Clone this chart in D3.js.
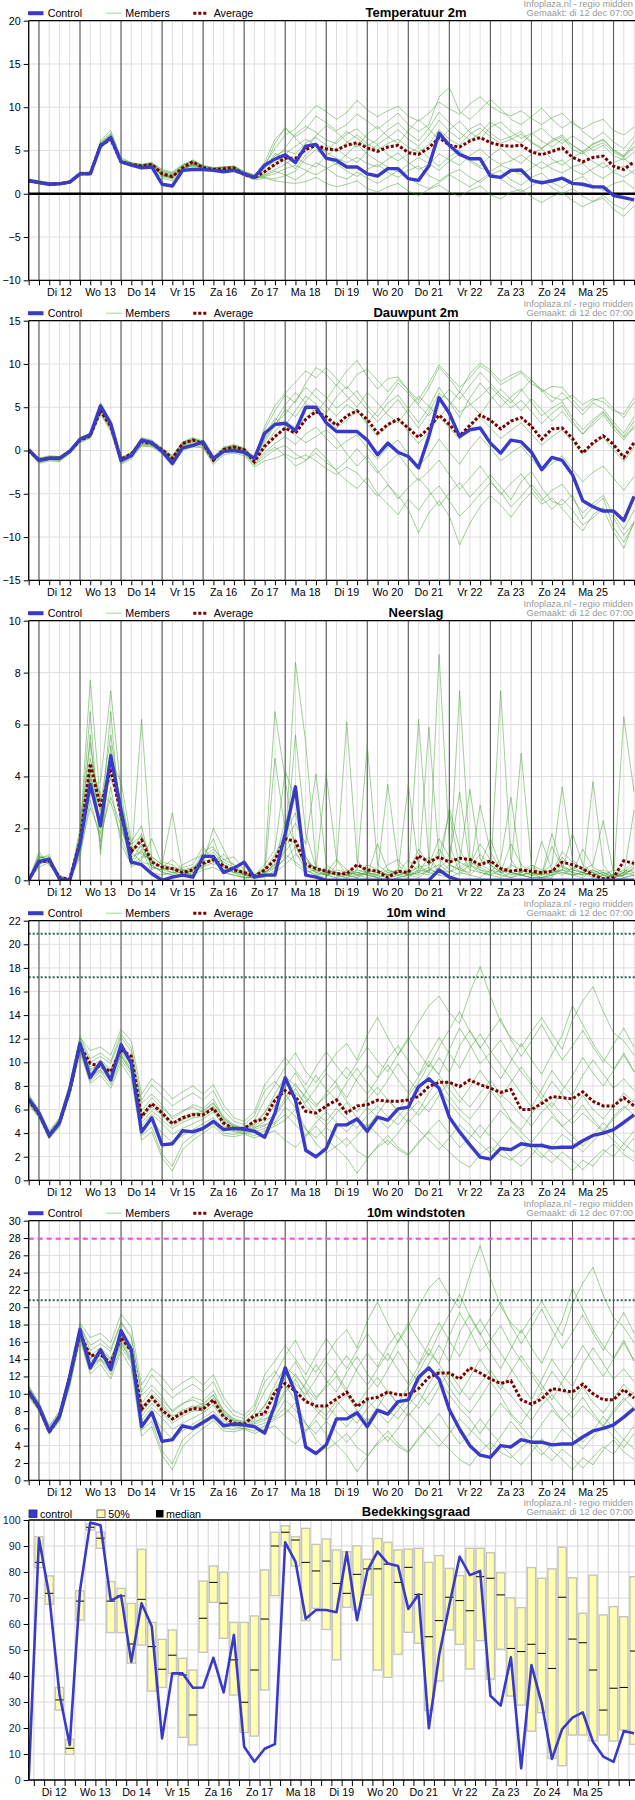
<!DOCTYPE html>
<html><head><meta charset="utf-8">
<script src="https://cdn.jsdelivr.net/npm/d3@7"></script>
<style>body{margin:0;background:#fff}svg{display:block}</style>
</head><body>
<svg id="c" width="635" height="1800"></svg>
<script>
// ---------- DATA ----------
const days = ["Di 12","Wo 13","Do 14","Vr 15","Za 16","Zo 17","Ma 18","Di 19","Wo 20","Do 21","Vr 22","Za 23","Zo 24","Ma 25"];
const sourceText = "Infoplaza.nl - regio midden";
const madeText = "Gemaakt: di 12 dec 07:00";

const tempControl = [1.5,1.3,1.1,1.15,1.35,2.3,2.3,5.5,6.5,3.7, 3.3,3.0,3.1,1.1,0.9,2.7,2.8,2.8,2.7,2.55, 2.7,2.3,1.9,3.3,4.0,4.5,3.6,5.5,5.7,4.1, 3.85,3.1,3.1,2.3,2.05,2.9,2.9,1.75,1.55,3.2, 7.0,5.6,4.55,4.05,4.05,2.05,1.9,2.7,2.75,1.55, 1.25,1.5,1.8,1.2,1.1,0.8,0.8,-0.2,-0.45,-0.7];
const tempAverage = [1.5,1.3,1.1,1.15,1.35,2.3,2.3,5.6,6.3,3.7, 3.4,3.2,3.4,2.3,2.0,3.0,3.7,3.0,2.8,2.9, 3.0,2.2,1.85,2.55,3.4,4.1,4.1,5.1,5.6,5.2, 5.05,5.6,5.9,5.3,4.9,5.4,5.6,4.75,4.55,5.3, 6.5,5.6,5.4,6.1,6.5,5.9,5.6,5.5,5.6,4.85, 4.5,4.9,5.3,4.2,3.7,4.2,4.35,3.2,2.8,3.7];
const tempMembers = [
[1.6,1.4,1.2,1.2,1.4,2.4,2.5,5.8,6.9,3.9, 3.5,3.4,3.6,2.8,2.5,3.4,3.9,3.3,3.0,3.1, 3.2,2.6,2.2,3.4,5.2,6.8,7.5,8.9,10.2,9.5, 8.6,9.4,10.8,9.7,8.9,9.6,10.1,9.0,8.4,9.3, 10.6,9.8,9.2,10.4,11.2,10.1,9.4,9.0,9.6,8.7, 8.0,8.8,9.3,8.1,7.5,8.2,8.6,7.3,6.8,7.7],
[1.4,1.2,1.0,1.1,1.3,2.2,2.2,5.4,6.1,3.5, 3.2,3.0,3.2,1.8,1.5,2.7,3.0,2.8,2.6,2.5, 2.6,2.1,1.6,1.8,1.5,1.3,1.2,1.4,1.9,1.2, 0.8,1.1,1.5,0.6,0.2,0.8,1.2,0.3,-0.2,0.5, 1.0,0.2,-0.3,0.4,0.9,-0.1,-0.6,0.2,0.5,-0.4, -1.0,-0.3,0.1,-0.8,-1.5,-0.9,-0.5,-1.8,-2.6,-1.4],
[1.5,1.3,1.2,1.2,1.4,2.5,2.4,6.2,7.3,4.2, 3.6,3.3,3.5,2.5,2.2,3.0,3.6,3.1,2.9,3.0, 3.1,2.4,2.0,2.6,4.0,5.3,6.9,7.8,7.1,6.2, 5.8,6.9,7.5,6.4,5.7,6.5,7.4,6.3,5.5,6.8, 8.5,7.2,6.3,7.5,8.1,7.0,6.2,6.6,7.2,6.0, 5.3,6.0,6.6,5.1,4.6,5.4,5.9,4.8,4.2,5.3],
[1.7,1.5,1.3,1.3,1.5,2.3,2.4,5.7,6.6,3.8, 3.4,3.1,3.3,2.1,1.9,2.9,3.3,3.0,2.8,2.7, 2.9,2.3,1.9,2.9,4.7,3.8,2.9,4.5,5.6,4.8, 4.1,3.6,4.2,3.5,3.1,4.0,4.7,3.6,2.8,3.4, 4.6,3.9,3.3,4.4,5.2,4.1,3.4,3.8,4.5,3.6, 2.9,3.5,3.9,2.8,2.2,2.9,3.6,2.5,1.9,2.7],
[1.5,1.4,1.1,1.2,1.3,2.2,2.3,5.9,6.8,3.6, 3.3,3.2,3.4,2.4,2.0,3.2,3.8,3.2,3.0,2.8, 3.0,2.5,2.1,3.1,5.8,7.7,6.4,5.2,6.7,7.9, 7.1,6.0,5.4,6.9,7.8,6.6,5.8,7.3,8.6,7.5, 6.2,7.4,8.4,7.1,6.3,7.7,8.3,7.2,6.4,7.0, 6.1,5.4,6.3,5.6,4.8,5.7,6.2,5.0,4.3,6.0],
[1.6,1.3,1.2,1.1,1.4,2.4,2.3,5.6,6.5,3.7, 3.4,3.2,3.4,2.2,1.8,3.1,3.4,3.0,2.8,2.8, 2.9,2.2,1.8,2.2,2.8,3.4,4.2,3.5,3.1,4.4, 5.2,4.3,3.6,4.9,5.6,4.5,3.8,4.6,5.4,4.1, 3.2,4.3,5.0,3.9,3.2,4.4,5.3,4.2,3.5,4.6, 5.2,4.0,3.3,4.2,4.8,3.7,3.0,3.6,4.1,3.2],
[1.4,1.2,1.1,1.1,1.3,2.3,2.2,5.5,6.4,3.7, 3.3,3.1,3.3,2.0,1.7,2.8,3.2,2.9,2.7,2.6, 2.8,2.2,1.7,2.4,3.3,4.6,5.5,6.3,5.6,4.9, 6.1,7.2,6.4,5.5,6.3,7.4,8.2,7.0,6.1,7.6, 9.4,8.2,7.1,6.2,7.0,8.3,7.5,6.4,5.8,6.9, 7.6,6.5,5.8,6.7,5.9,5.0,5.6,4.4,3.9,4.8],
[1.5,1.3,1.2,1.2,1.4,2.3,2.4,5.6,6.7,3.8, 3.4,3.2,3.4,2.3,2.0,3.0,3.5,3.0,2.8,2.9, 3.0,2.3,1.9,2.0,2.3,2.9,3.3,2.7,2.2,2.9, 3.5,2.6,2.0,2.8,3.4,2.5,1.9,2.7,3.2,2.1, 1.5,2.3,2.8,1.9,1.3,2.2,2.7,1.6,1.0,1.9, 2.4,1.3,0.7,1.5,2.0,0.9,0.4,1.2,1.5,0.6],
[1.6,1.4,1.2,1.2,1.4,2.4,2.4,5.7,6.6,3.9, 3.5,3.3,3.5,2.6,2.3,3.3,3.7,3.1,2.9,3.1, 3.1,2.5,2.0,3.0,4.4,5.0,4.6,5.9,6.5,5.6, 5.0,5.9,6.8,5.8,5.1,5.8,6.3,5.4,4.8,5.7, 7.4,6.3,5.6,6.9,7.6,6.6,5.8,6.3,6.9,5.9, 5.2,6.2,6.8,5.6,4.9,5.8,6.3,5.1,4.4,5.5],
[1.5,1.3,1.1,1.2,1.3,2.2,2.3,5.5,6.3,3.6, 3.3,3.1,3.3,2.2,1.9,2.9,3.3,2.9,2.7,2.8, 2.9,2.3,1.8,1.9,1.7,2.1,2.6,4.1,5.1,4.2, 3.4,4.6,5.7,4.6,3.8,3.1,2.5,3.4,4.2,3.5, 2.7,3.8,4.6,3.7,3.0,2.6,3.3,2.8,2.2,3.0, 3.7,2.9,2.4,3.1,3.5,2.4,1.8,2.6,3.2,2.3],
[1.7,1.5,1.3,1.3,1.5,2.5,2.5,6.0,7.0,4.0, 3.6,3.4,3.6,2.7,2.4,3.3,3.8,3.2,3.0,3.1, 3.2,2.5,2.1,3.6,6.3,7.5,6.6,7.4,9.0,8.2, 7.3,8.0,9.2,8.4,7.5,8.4,9.3,8.0,7.2,8.0, 11.2,12.3,9.5,8.6,9.7,10.9,9.8,8.6,8.0,8.9, 9.9,8.6,7.6,8.4,7.2,6.3,7.1,6.0,5.2,6.6],
[1.5,1.3,1.1,1.1,1.3,2.3,2.3,5.6,6.5,3.7, 3.4,3.2,3.4,2.1,1.8,2.9,3.4,3.0,2.8,2.7, 2.9,2.3,1.8,2.1,2.6,2.2,1.6,2.4,3.6,3.0, 2.1,1.7,2.5,1.8,1.2,1.9,2.7,1.9,1.1,0.6, 1.3,2.2,1.5,0.8,1.6,2.4,1.7,0.9,0.2,0.9, 1.6,0.7,0.0,0.6,-0.3,-0.9,-0.2,-1.2,-1.8,-0.6]
];

const dewControl = [0.1,-1.15,-0.9,-0.9,-0.1,1.3,1.8,5.15,3.1,-1.15, -0.6,1.2,0.9,-0.1,-1.5,0.3,0.6,1.0,-0.9,-0.1, 0,-0.2,-0.9,2.0,3.0,3.15,2.3,5.0,5.0,3.2, 2.2,2.2,2.2,1.2,-0.5,0.85,-0.2,-0.7,-2.0,1.6, 6.1,4.3,1.6,2.4,2.6,0.85,-0.3,1.2,1.0,-0.2, -2.2,-0.8,-1.15,-2.8,-5.8,-6.5,-7.0,-7.0,-8.1,-5.3];
const dewAverage = [0,-1.1,-0.9,-0.9,-0.1,1.2,1.7,4.6,2.8,-1.0, -0.4,1.0,0.8,0.1,-0.9,0.8,1.2,0.8,-1.1,0.1, 0.4,0.1,-1.3,0.5,1.6,2.6,2.0,3.6,4.5,3.9, 2.9,4.0,4.6,3.6,2.0,3.0,3.6,2.6,1.5,2.6, 4.1,3.0,1.7,2.9,4.1,3.5,2.5,3.4,3.8,2.8, 1.3,2.5,2.6,1.4,-0.3,0.9,1.7,0.7,-0.8,0.9];
const dewMembers = [
[0.2,-0.9,-0.6,-0.7,0.1,1.5,2.0,5.5,3.4,-0.8, -0.2,1.5,1.2,0.3,-0.6,1.0,1.5,1.1,-0.7,0.4, 0.7,0.3,-0.8,2.4,4.6,6.4,5.5,7.8,9.6,8.8, 7.5,9.2,10.4,8.6,7.1,8.3,8.5,6.9,5.4,7.2, 9.6,8.3,6.7,8.9,10.1,9.3,8.0,8.7,9.2,8.1, 6.8,7.4,7.3,5.9,4.6,5.8,6.1,4.9,3.8,5.6],
[-0.2,-1.5,-1.2,-1.3,-0.4,0.9,1.4,4.2,2.2,-1.6, -1.0,0.5,0.4,-0.4,-1.8,0.0,0.4,0.3,-1.6,-0.5, -0.3,-0.6,-1.9,-1.2,-0.9,-0.4,-1.0,-0.5,-1.2,-2.1, -2.8,-1.9,-2.6,-3.9,-5.3,-4.0,-5.2,-6.8,-9.5,-7.2, -5.8,-7.6,-10.9,-8.4,-6.5,-5.2,-6.3,-7.7,-6.1,-4.8, -6.2,-5.5,-6.7,-8.1,-9.3,-7.4,-6.6,-7.8,-9.8,-8.3],
[0.0,-1.1,-0.8,-0.9,0.0,1.3,1.8,4.9,3.0,-1.2, -0.5,1.1,0.9,0.0,-1.1,0.6,1.0,0.9,-1.0,0.2, 0.4,0.1,-1.1,1.0,2.9,4.8,3.9,5.6,7.2,6.1, 4.9,5.8,6.9,5.2,3.9,5.5,6.4,4.8,3.2,5.0, 7.3,5.6,3.8,6.1,7.8,6.4,5.0,6.2,7.1,5.6, 4.0,4.9,5.6,3.8,2.4,3.6,4.5,3.0,1.6,3.4],
[-0.1,-1.3,-1.0,-1.1,-0.2,1.1,1.6,4.5,2.6,-1.4, -0.7,0.8,0.6,-0.1,-1.4,0.2,0.7,0.6,-1.3,-0.2, 0.1,-0.2,-1.5,-0.2,0.8,1.6,0.7,1.9,2.7,1.4, 0.2,1.1,1.8,0.3,-1.0,0.4,1.2,-0.4,-1.8,-0.5, 1.3,-0.2,-1.6,0.2,1.6,0.3,-1.2,-0.3,0.5,-0.9, -2.4,-1.5,-0.6,-2.2,-3.6,-2.5,-1.8,-3.2,-4.6,-3.0],
[0.1,-1.0,-0.7,-0.8,0.0,1.4,1.9,5.2,3.2,-1.0, -0.3,1.3,1.0,0.2,-0.8,0.9,1.3,1.0,-0.9,0.3, 0.5,0.2,-1.0,1.8,3.7,2.9,4.6,6.3,5.4,4.3, 6.2,7.4,6.1,4.7,3.3,4.6,5.9,4.2,2.6,4.4, 6.6,5.8,4.4,5.3,6.2,7.4,6.1,4.9,5.8,4.5, 3.1,4.3,5.2,3.4,1.9,3.0,4.1,2.5,1.2,2.9],
[0.0,-1.2,-0.9,-1.0,-0.1,1.2,1.7,4.7,2.8,-1.1, -0.4,1.0,0.8,0.1,-1.0,0.7,1.1,0.8,-1.1,0.1, 0.3,0.0,-1.2,0.2,1.5,2.6,1.8,0.9,1.6,2.4, 1.3,-0.4,-1.8,-0.6,-2.3,-3.9,-5.6,-4.3,-3.2,-4.6, -6.4,-4.9,-3.7,-5.4,-4.1,-2.8,-4.2,-5.7,-3.6,-2.4, -4.3,-5.9,-6.3,-5.1,-7.9,-6.5,-5.5,-8.9,-10.6,-8.4],
[0.1,-1.0,-0.8,-0.8,0.0,1.3,1.8,5.0,3.1,-1.1, -0.5,1.2,1.0,0.1,-0.9,0.8,1.2,1.0,-1.0,0.2, 0.5,0.1,-1.1,1.3,3.1,4.2,5.8,7.3,6.2,5.1, 4.0,5.3,4.5,3.2,4.6,6.1,7.8,6.6,5.2,4.0, 5.7,7.1,5.9,7.5,9.0,7.8,6.4,5.5,6.9,8.2, 7.0,5.6,6.7,5.4,4.1,5.5,4.8,3.3,2.0,3.9],
[-0.1,-1.4,-1.1,-1.2,-0.3,1.0,1.5,4.3,2.4,-1.5, -0.8,0.6,0.5,-0.2,-1.6,0.1,0.5,0.4,-1.4,-0.3, 0.0,-0.4,-1.7,-0.8,0.1,0.6,-0.4,-1.1,-0.3,-1.4, -2.2,-1.2,0.2,-1.1,-2.6,-1.5,-0.4,-2.0,-3.5,-2.4, -1.1,-2.8,-4.5,-3.2,-1.8,-3.4,-5.1,-3.8,-2.7,-4.3, -5.8,-4.6,-3.9,-5.5,-7.2,-6.1,-5.2,-7.4,-9.1,-6.9],
[0.1,-1.1,-0.8,-0.9,0.0,1.4,1.9,5.0,3.0,-1.0, -0.4,1.1,0.9,0.1,-1.0,0.8,1.2,0.9,-1.0,0.2, 0.4,0.1,-1.0,1.5,3.4,5.3,6.7,5.5,4.3,5.9, 7.6,6.3,5.0,6.7,5.5,4.1,3.2,4.8,6.3,5.1, 3.8,5.2,6.8,5.4,4.2,5.8,7.1,5.9,4.6,6.0, 4.7,3.4,4.5,3.1,1.9,3.3,4.4,2.8,1.5,2.6],
[0.0,-1.2,-0.9,-1.0,-0.1,1.2,1.7,4.8,2.9,-1.2, -0.6,0.9,0.7,0.0,-1.2,0.5,0.9,0.7,-1.2,0.0, 0.3,-0.1,-1.3,0.6,2.2,3.4,2.6,3.8,4.9,3.7, 2.6,3.5,4.6,3.0,1.7,2.8,3.7,2.2,0.8,2.1, 3.9,2.6,1.3,2.7,3.8,2.6,1.4,2.3,3.2,1.9, 0.6,1.6,2.4,1.0,-0.4,0.7,1.5,0.1,-1.3,0.4],
[0.2,-0.9,-0.7,-0.7,0.1,1.5,2.0,5.3,3.3,-0.9, -0.3,1.4,1.1,0.2,-0.7,0.9,1.4,1.0,-0.8,0.3, 0.6,0.2,-0.9,2.8,5.2,6.6,7.9,9.2,8.4,9.6, 8.3,7.1,8.8,9.4,8.1,6.8,8.2,7.0,5.8,7.8, 9.9,8.6,7.3,8.4,9.8,9.0,7.6,8.3,9.0,7.7, 7.1,6.2,5.8,6.4,5.3,6.0,5.6,4.6,4.2,6.1],
[-0.1,-1.3,-1.0,-1.1,-0.2,1.1,1.6,4.6,2.7,-1.3, -0.7,0.7,0.6,-0.1,-1.3,0.3,0.8,0.5,-1.3,-0.1, 0.2,-0.3,-1.6,-0.5,0.4,-0.6,-1.8,-1.2,0.3,-0.9, -2.4,-3.5,-4.4,-3.1,-5.0,-6.2,-7.4,-5.6,-6.9,-5.2, -4.1,-5.8,-7.6,-6.4,-5.0,-3.7,-4.8,-6.5,-5.3,-3.9, -5.4,-6.8,-5.6,-6.9,-8.6,-7.8,-6.7,-9.4,-11.3,-8.2]
];

const precipControl = [0,0.73,0.8,0.05,0,1.4,3.7,2.1,4.8,2.7, 0.7,0.6,0.25,0,0.12,0.2,0.12,0.92,0.92,0.3, 0.47,0.7,0.12,0.2,0.2,1.8,3.6,0.2,0.12,0, 0,0,0,0,0,0,0,0,0,0, 0.4,0.12,0,0,0,0,0,0,0,0, 0,0,0,0,0,0,0,0,0,0];
const precipAverage = [0,0.7,0.75,0.1,0.05,1.5,4.5,2.8,4.3,2.5, 1.1,1.55,0.7,0.5,0.45,0.3,0.4,0.65,0.8,0.55, 0.4,0.3,0.15,0.4,0.8,1.6,1.5,0.6,0.45,0.35, 0.25,0.25,0.6,0.4,0.35,0.1,0.35,0.3,0.95,0.7, 0.9,0.7,0.85,0.8,0.6,0.75,0.45,0.35,0.4,0.35, 0.3,0.35,0.7,0.6,0.45,0.2,0.05,0.1,0.75,0.65];
const precipMembers = [
[0,0.9,0.8,0.1,0,1.8,7.7,2.9,5.6,2.6, 1.0,1.8,0.5,0.4,0.3,0.2,0.4,1.1,1.3,0.6, 0.3,0.1,0.1,0.3,0.5,1.2,8.4,5.3,0.6,0.2, 0.1,0.4,0.3,0.2,0.1,0.0,0.1,0.2,0.3,0.5, 0.2,0.1,0.3,0.6,1.4,0.8,0.3,0.1,0.2,0.1, 0.1,0.3,0.4,1.8,0.6,0.3,0.1,0.0,0.1,0.2],
[0,0.7,0.7,0.0,0,1.2,3.6,3.8,7.3,3.4, 0.8,6.2,0.7,0.5,0.8,0.4,0.3,0.5,0.9,0.4, 0.5,0.2,0.1,0.2,4.7,1.9,0.6,0.3,0.4,4.1, 0.8,0.2,0.1,0.3,0.4,0.2,0.1,0.2,0.6,0.3, 8.7,1.4,0.3,0.2,0.1,0.4,0.2,0.1,0.3,0.2, 0.1,0.1,0.6,0.3,0.2,3.8,0.6,0.1,0.2,0.5],
[0,0.6,0.9,0.2,0,1.4,5.6,1.0,4.9,2.3, 0.5,0.8,1.6,0.6,2.6,0.3,0.5,0.7,2.0,1.2, 0.4,0.3,0.2,0.5,6.5,3.9,1.1,0.4,0.2,0.1, 0.6,6.1,0.8,0.2,0.1,0.3,0.4,0.2,6.2,0.8, 0.3,0.2,7.3,0.9,0.4,0.2,0.1,0.3,0.2,0.1, 0.1,0.2,0.3,0.2,0.1,0.4,0.2,0.1,6.3,3.4],
[0,1.1,0.6,0.1,0,1.6,4.2,2.0,6.5,1.9, 1.2,1.3,0.6,0.3,0.2,0.5,0.6,1.3,0.7,1.0, 0.6,0.2,0.1,0.2,0.7,2.3,1.4,0.5,0.3,0.5, 0.2,0.1,0.4,5.2,0.6,0.3,0.2,0.1,0.4,5.9, 0.8,0.4,0.2,0.6,0.3,0.2,7.3,0.8,0.2,0.3, 0.1,0.2,0.9,0.4,0.3,0.1,0.2,0.4,0.3,0.8],
[0,0.8,1.0,0.0,0,0.9,3.1,1.5,3.6,1.4, 0.6,0.9,0.9,0.6,0.4,0.4,0.2,0.8,0.6,0.8, 0.9,0.4,0.2,0.6,1.2,4.2,3.1,0.8,0.4,0.2, 0.3,0.2,0.1,0.4,0.3,3.7,0.6,0.2,0.1,0.4, 0.6,0.3,0.7,3.5,0.8,0.6,0.3,0.5,4.9,0.6, 0.4,0.3,1.1,0.7,0.4,0.6,2.3,0.3,0.1,0.2],
[0,0.5,0.7,0.1,0,2.0,5.3,2.5,4.6,3.8, 1.5,2.1,0.4,0.7,0.6,0.3,0.4,0.9,1.6,0.5, 0.3,0.3,0.1,0.1,0.4,0.9,5.6,1.8,0.5,0.3, 0.2,0.3,0.6,0.3,0.2,0.1,0.2,0.3,1.2,0.6, 0.9,2.6,0.5,0.8,0.6,1.6,0.5,0.3,0.2,0.3, 0.2,1.8,0.5,0.3,1.2,0.5,0.3,0.1,0.3,0.6],
[0,0.9,0.8,0.2,0,1.5,4.7,3.1,3.9,2.8, 1.3,1.0,0.8,0.5,0.3,0.6,0.8,1.0,0.9,0.7, 0.5,0.2,0.2,0.4,0.8,1.5,2.2,1.4,4.1,0.6, 0.3,0.2,0.3,0.2,1.4,0.4,0.3,0.8,0.3,0.2, 0.5,0.8,3.4,0.6,0.4,0.3,0.8,3.2,0.4,0.2, 0.3,0.6,3.6,0.8,0.4,0.3,0.1,0.2,0.4,0.3],
[0,0.7,0.9,0.0,0,1.1,2.8,1.8,3.2,2.1, 0.7,1.4,0.5,0.4,0.5,0.2,0.3,0.6,0.8,0.3, 0.2,0.1,0.1,0.2,0.3,0.6,1.0,0.7,0.5,0.3, 0.2,0.1,0.2,0.1,0.2,0.4,0.2,0.3,0.2,0.4, 0.3,2.8,1.2,0.4,0.3,0.2,0.4,0.3,0.2,0.1, 1.5,0.4,0.3,0.2,0.3,0.2,0.1,0.2,0.3,0.4],
[0,1.0,0.6,0.1,0,1.7,6.5,1.2,5.2,2.4, 0.9,1.1,0.7,0.5,0.4,0.3,0.2,0.9,1.2,0.8, 0.6,0.3,0.2,0.3,0.6,1.1,1.6,0.9,0.4,0.2, 0.4,0.3,0.2,0.6,0.4,0.2,0.3,3.7,0.5,0.3, 0.2,0.6,0.4,0.3,2.9,1.1,0.4,0.2,0.3,0.6, 0.2,0.4,0.2,0.5,0.3,0.2,0.3,0.1,0.2,0.3],
[0,0.6,0.8,0.1,0,1.3,3.9,2.2,4.1,2.6, 1.1,0.7,0.6,0.3,0.2,0.2,0.4,0.5,0.7,0.4, 0.3,0.2,0.1,0.2,0.5,0.8,1.3,0.6,0.3,0.2, 0.1,0.2,0.3,0.2,0.3,0.2,0.4,0.2,0.3,0.9, 0.4,0.3,0.5,0.2,0.6,0.4,0.3,1.4,0.6,0.3, 0.2,0.3,0.4,0.2,0.3,0.4,0.2,0.1,0.3,0.2],
[0,0.8,0.7,0.0,0,1.0,4.4,3.3,3.0,1.7, 0.6,1.2,0.3,0.2,0.3,0.3,0.2,0.4,0.5,0.3, 0.2,0.1,0.1,0.3,0.6,1.0,0.7,0.4,0.2,0.3, 0.8,0.4,0.2,0.3,0.2,0.6,0.8,0.3,0.5,0.6, 1.6,0.9,0.7,0.5,1.0,0.6,0.3,0.4,0.3,0.5, 0.3,0.2,0.4,0.3,0.2,0.3,0.4,0.2,0.2,0.5],
[0,0.9,0.9,0.1,0,1.6,4.0,2.7,4.4,3.0, 1.4,1.7,0.9,0.6,0.5,0.4,0.5,0.8,1.1,0.6, 0.4,0.2,0.2,0.4,1.0,1.8,2.6,0.9,0.3,0.2, 0.3,0.2,0.4,0.3,0.1,0.2,0.3,0.2,0.4,0.3, 1.2,0.6,0.4,0.7,0.5,0.3,0.2,0.6,0.4,0.3, 0.2,1.3,0.5,0.4,0.3,0.2,0.3,0.2,0.2,2.7]
];

const windControl = [6.9,5.7,3.8,4.9,7.7,11.6,8.7,10.0,8.5,11.5, 9.9,4.1,5.3,3.0,3.1,4.2,4.1,4.4,5.0,4.3, 4.4,4.35,4.15,3.65,5.7,8.7,6.8,2.55,2.0,2.7, 4.7,4.7,5.2,4.15,5.35,5.1,6.05,6.2,7.95,8.6, 7.8,5.35,4.1,3.0,1.97,1.8,2.7,2.6,3.1,2.95, 2.95,2.75,2.8,2.8,3.35,3.8,4.0,4.3,4.9,5.55];
const windAverage = [6.8,5.6,3.8,4.9,7.6,11.4,9.9,9.65,9.2,11.1, 10.5,5.4,6.5,5.7,4.8,5.3,5.55,5.55,6.1,4.85, 4.35,4.4,5.0,5.2,6.8,7.6,7.1,5.85,5.7,6.3, 6.8,5.7,6.3,6.4,6.8,6.7,6.7,6.8,7.1,7.95, 8.3,8.3,7.95,8.5,8.1,7.8,7.45,7.7,6.0,6.0, 6.5,7.1,7.0,6.9,7.5,6.7,6.3,6.3,7.0,6.3];
const windMembers = [
[7.2,5.9,4.1,5.2,8.1,12.2,10.3,10.8,10.1,12.4, 11.2,6.5,7.3,6.4,5.2,5.8,6.4,6.1,6.9,5.3, 4.6,4.4,5.1,6.8,8.1,9.6,10.8,9.2,8.3,9.5, 10.8,11.6,10.2,12.3,13.8,12.1,10.6,11.9,13.4,14.8, 15.6,14.2,13.3,15.9,18.1,15.6,13.4,12.1,11.3,12.6, 13.8,12.4,11.1,13.6,15.2,16.4,14.3,12.5,11.8,10.6],
[6.5,5.4,3.6,4.6,7.3,11.0,8.4,9.2,8.1,10.2, 9.0,3.8,4.5,2.2,1.2,3.1,3.8,4.3,4.8,4.0, 3.9,4.0,3.8,4.2,4.6,5.1,6.0,4.4,3.1,2.3, 2.9,3.6,2.5,1.9,2.8,3.4,2.6,2.1,3.3,4.1, 3.2,2.4,1.6,1.1,2.2,2.9,2.1,1.7,2.5,3.1, 2.2,1.5,2.4,1.7,0.9,1.8,2.6,2.0,3.1,2.4],
[6.9,5.7,3.9,5.0,7.8,11.8,9.6,10.2,9.4,11.5, 10.3,5.9,7.0,6.1,5.4,5.9,6.2,5.8,6.5,5.4, 4.7,4.5,4.8,5.8,6.9,8.2,7.4,6.6,7.8,9.1, 8.2,7.0,8.6,9.8,8.7,10.3,11.4,10.1,8.9,10.6, 12.1,10.7,9.5,11.2,12.4,11.0,9.8,8.6,7.4,6.2, 7.7,9.3,8.1,7.2,8.9,10.2,9.0,7.8,8.6,7.6],
[6.7,5.5,3.7,4.7,7.5,11.2,8.9,9.6,8.7,10.6, 9.3,4.6,5.6,4.8,3.9,4.4,4.8,5.2,5.8,4.6, 4.2,4.1,4.3,4.6,5.4,6.7,7.8,6.3,5.4,4.6, 5.7,6.6,5.3,4.5,5.6,6.9,5.8,4.9,5.9,7.4, 8.6,7.1,6.0,5.2,6.3,7.6,6.5,5.1,4.3,5.6, 6.8,5.7,4.6,5.3,6.4,5.2,4.2,5.4,6.3,5.5],
[7.1,5.8,4.0,5.1,7.9,12.0,10.0,10.5,9.9,12.1, 10.9,6.8,8.1,7.2,6.3,6.9,7.4,6.8,7.6,5.9, 5.0,4.7,5.5,7.6,8.4,7.3,6.1,7.5,8.9,7.7, 6.8,8.3,9.5,8.2,7.2,8.5,9.9,8.6,7.5,9.0, 10.4,9.1,11.4,12.7,11.3,9.8,8.6,10.1,11.6,10.2, 9.0,10.7,12.3,14.8,13.2,11.6,10.3,9.4,10.8,9.2],
[6.6,5.5,3.7,4.8,7.4,11.1,8.8,9.4,8.6,10.7, 9.5,4.9,5.9,5.1,4.4,4.9,5.3,5.4,6.0,4.9, 4.4,4.2,4.5,4.7,4.9,6.2,5.4,4.3,3.6,4.5, 3.7,2.9,3.8,4.8,3.9,3.0,4.0,5.2,4.3,3.4, 2.6,3.6,4.7,3.9,3.1,2.3,3.4,4.5,3.6,2.7, 1.9,2.8,3.9,3.2,2.4,3.3,4.2,3.4,2.5,3.6],
[7.0,5.7,3.9,5.0,7.7,11.6,9.4,10.0,9.3,11.2, 10.1,5.6,6.6,5.9,4.9,5.4,5.7,5.6,6.3,5.1, 4.5,4.3,4.6,5.3,6.3,7.9,9.1,7.6,6.4,7.1, 8.0,6.7,5.8,6.9,7.9,6.8,5.9,7.2,8.3,9.8, 9.0,11.1,12.9,11.5,9.9,10.8,11.9,10.4,9.2,8.1, 6.9,8.4,7.3,6.1,7.2,6.0,5.2,6.3,7.4,6.6],
[6.8,5.6,3.8,4.9,7.6,11.4,9.1,9.8,9.0,10.9, 9.8,5.2,6.2,5.5,4.6,5.1,5.5,5.7,6.2,5.0, 4.3,4.2,4.4,5.0,5.5,7.0,8.2,6.9,5.6,5.0, 6.1,5.2,4.4,5.5,6.3,5.4,4.7,5.8,6.7,5.8, 7.2,8.4,7.1,6.2,7.4,8.5,7.3,6.5,5.5,4.6, 5.8,6.6,5.6,4.8,5.7,4.9,4.1,5.2,6.1,6.8],
[7.3,6.0,4.2,5.3,8.2,12.1,11.0,11.3,10.6,12.8, 11.8,7.3,8.6,7.9,6.9,7.5,8.0,7.3,8.1,6.4, 5.3,5.0,5.8,8.1,9.2,10.4,9.3,8.1,9.6,10.9, 9.7,8.6,10.0,11.3,10.1,9.2,10.7,12.1,10.8,9.6, 11.3,12.8,14.3,12.6,11.2,12.5,13.7,11.9,10.5,11.8, 13.2,11.6,10.2,11.4,12.7,11.3,10.0,11.5,12.9,11.3],
[6.4,5.3,3.5,4.5,7.2,10.8,8.2,8.9,7.8,9.9, 8.6,3.4,4.1,1.9,0.8,2.6,3.4,4.0,4.6,3.8, 3.7,3.9,3.6,3.9,4.2,3.4,2.8,3.7,4.6,3.5, 2.7,1.9,0.6,1.8,2.9,3.8,2.8,2.2,3.1,4.2, 5.1,3.9,2.8,3.6,4.7,3.7,2.8,1.9,1.2,2.1, 3.2,2.3,1.6,0.8,1.7,1.2,2.3,3.1,2.2,1.6],
[6.9,5.6,3.8,4.9,7.6,11.5,9.3,9.9,9.1,11.0, 9.9,5.5,6.4,5.7,4.8,5.2,5.6,5.9,6.6,5.2, 4.6,4.4,4.7,5.7,7.3,8.8,8.0,7.1,6.2,7.4, 8.5,9.6,8.4,7.3,8.6,9.8,8.5,7.4,8.8,10.1, 8.9,7.7,6.6,7.9,9.3,8.1,7.0,8.3,9.6,8.4, 7.3,6.2,7.6,8.9,10.4,9.1,8.0,9.3,10.6,9.2],
[6.6,5.4,3.6,4.6,7.4,11.2,8.7,9.3,8.4,10.5, 9.2,4.3,5.1,4.0,3.2,3.8,4.3,4.8,5.3,4.4, 4.1,4.0,4.1,4.4,4.8,5.6,4.7,3.8,4.9,5.8, 4.9,4.1,5.1,6.2,5.3,4.4,5.4,6.4,5.5,6.6, 7.7,6.6,5.5,4.7,3.6,4.8,5.9,5.0,4.1,3.2, 4.3,5.4,4.6,3.7,2.9,3.8,4.9,4.0,3.1,4.2]
];
const windRefLevels = [20.9, 17.2];

const gustControl = [10.3,8.5,5.65,7.4,12,17.4,13,15.1,12.8,17.3, 15.1,6.2,7.85,4.5,4.7,6.3,6.0,6.7,7.45,6.3, 6.5,6.4,6.2,5.45,8.7,13,10.1,3.85,3.1,4.1, 7.1,7.1,7.8,6.2,8.1,7.65,9.1,9.3,11.9,13, 11.7,8.15,5.9,4.0,2.9,2.65,4.0,3.85,4.7,4.4, 4.4,4.1,4.2,4.2,5.0,5.7,6.0,6.4,7.3,8.3];
const gustAverage = [10.2,8.4,5.6,7.4,11.9,17.0,14.4,14.5,13.6,16.5, 14.9,8.2,9.6,8.1,7.1,7.8,8.3,8.2,9.3,7.3, 6.6,6.5,7.5,7.7,10.2,11.2,10.3,9.1,8.6,8.6, 9.4,10.2,8.5,9.4,9.6,10.2,9.9,9.9,10.6,11.9, 12.4,12.4,11.7,13.0,12.4,11.7,11.2,11.5,9.3,8.8, 9.4,10.6,10.4,10.2,11.1,10.0,9.3,9.3,10.5,9.5];
const gustMembers = [
[10.8,8.9,6.2,7.9,12.4,17.8,15.6,16.3,15.2,18.3, 16.7,9.8,11.0,9.7,7.9,8.8,9.6,9.2,10.4,8.0, 7.0,6.7,7.8,10.3,12.2,14.4,16.2,13.8,12.5,14.3, 16.2,17.4,15.3,18.4,20.6,18.1,15.9,17.8,20.1,22.2, 23.4,21.3,19.9,23.8,27.1,23.4,20.1,18.2,17.0,18.9, 20.7,18.6,16.7,20.4,22.8,24.6,21.4,18.8,17.7,15.9],
[9.8,8.1,5.5,7.0,11.2,16.5,12.7,13.9,12.2,15.4, 13.6,5.8,6.8,3.4,1.9,4.7,5.7,6.5,7.2,6.0, 5.9,6.0,5.7,6.3,7.0,7.7,9.0,6.6,4.7,3.5, 4.4,5.4,3.8,2.9,4.2,5.1,3.9,3.2,5.0,6.2, 4.8,3.6,2.4,1.7,3.3,4.4,3.2,2.6,3.8,4.7, 3.3,2.3,3.6,2.6,1.4,2.7,3.9,3.0,4.7,3.6],
[10.4,8.6,5.9,7.5,11.8,17.5,14.4,15.3,14.1,17.2, 15.5,8.9,10.5,9.2,8.1,8.9,9.3,8.7,9.8,8.1, 7.1,6.8,7.2,8.7,10.4,12.3,11.1,9.9,11.7,13.7, 12.3,10.5,12.9,14.7,13.1,15.5,17.1,15.2,13.4,15.9, 18.2,16.1,14.3,16.8,18.6,16.5,14.7,12.9,11.1,9.3, 11.6,14.0,12.2,10.8,13.4,15.3,13.5,11.7,12.9,11.4],
[10.1,8.3,5.6,7.1,11.3,16.8,13.4,14.4,13.1,15.9, 14.0,6.9,8.4,7.2,5.9,6.6,7.2,7.8,8.7,6.9, 6.3,6.2,6.5,6.9,8.1,10.1,11.7,9.5,8.1,6.9, 8.6,9.9,8.0,6.8,8.4,10.4,8.7,7.4,8.9,11.1, 12.9,10.7,9.0,7.8,9.5,11.4,9.8,7.7,6.5,8.4, 10.2,8.6,6.9,8.0,9.6,7.8,6.3,8.1,9.5,8.3],
[10.7,8.7,6.0,7.7,11.9,18.0,15.0,15.8,14.9,18.2, 16.4,10.2,12.2,10.8,9.5,10.4,11.1,10.2,11.4,8.9, 7.5,7.1,8.3,11.4,12.6,11.0,9.2,11.3,13.4,11.6, 10.2,12.5,14.3,12.3,10.8,12.8,14.9,12.9,11.3,13.5, 15.6,13.7,17.1,19.1,17.0,14.7,12.9,15.2,17.4,15.3, 13.5,16.1,18.5,22.2,19.8,17.4,15.5,14.1,16.2,13.8],
[9.9,8.3,5.6,7.2,11.1,16.7,13.2,14.1,12.9,16.1, 14.3,7.4,8.9,7.7,6.6,7.4,8.0,8.1,9.0,7.4, 6.6,6.3,6.8,7.1,7.4,9.3,8.1,6.5,5.4,6.8, 5.6,4.4,5.7,7.2,5.9,4.5,6.0,7.8,6.5,5.1, 3.9,5.4,7.1,5.9,4.7,3.5,5.1,6.8,5.4,4.1, 2.9,4.2,5.9,4.8,3.6,5.0,6.3,5.1,3.8,5.4],
[10.5,8.6,5.9,7.5,11.6,17.4,14.1,15.0,14.0,16.8, 15.2,8.4,9.9,8.9,7.4,8.1,8.6,8.4,9.5,7.7, 6.8,6.5,6.9,8.0,9.5,11.9,13.7,11.4,9.6,10.7, 12.0,10.1,8.7,10.4,11.9,10.2,8.9,10.8,12.5,14.7, 13.5,16.7,19.4,17.3,14.9,16.2,17.9,15.6,13.8,12.2, 10.4,12.6,11.0,9.2,10.8,9.0,7.8,9.5,11.1,9.9],
[10.2,8.4,5.7,7.4,11.4,17.1,13.7,14.7,13.5,16.4, 14.7,7.8,9.3,8.3,6.9,7.7,8.3,8.6,9.3,7.5, 6.5,6.3,6.6,7.5,8.3,10.5,12.3,10.4,8.4,7.5, 9.2,7.8,6.6,8.3,9.5,8.1,7.1,8.7,10.1,8.7, 10.8,12.6,10.7,9.3,11.1,12.8,11.0,9.8,8.3,6.9, 8.7,9.9,8.4,7.2,8.6,7.4,6.2,7.8,9.2,10.2],
[10.9,9.0,6.3,8.0,12.3,18.2,16.5,17.0,15.9,19.2, 17.7,11.0,12.9,11.9,10.4,11.3,12.0,11.0,12.2,9.6, 8.0,7.5,8.7,12.2,13.8,15.6,14.0,12.2,14.4,16.4, 14.6,12.9,15.0,17.0,15.2,13.8,16.1,18.2,16.2,14.4, 17.0,19.2,21.5,18.9,16.8,18.8,20.6,17.9,15.8,17.7, 19.8,17.4,15.3,17.1,19.1,17.0,15.0,17.3,19.4,17.0],
[9.6,8.0,5.3,6.8,10.8,16.2,12.3,13.4,11.7,14.9, 12.9,5.1,6.2,2.9,1.2,3.9,5.1,6.0,6.9,5.7, 5.6,5.9,5.4,5.9,6.3,5.1,4.2,5.6,6.9,5.3, 4.1,2.9,1.0,2.7,4.4,5.7,4.2,3.3,4.7,6.3, 7.7,5.9,4.2,5.4,7.1,5.6,4.2,2.9,1.8,3.2, 4.8,3.5,2.4,1.2,2.6,1.8,3.5,4.7,3.3,2.4],
[10.4,8.4,5.7,7.4,11.4,17.3,14.0,14.9,13.7,16.5, 14.9,8.3,9.6,8.6,7.2,7.8,8.4,8.9,9.9,7.8, 6.9,6.6,7.1,8.6,11.0,13.2,12.0,10.7,9.3,11.1, 12.8,14.4,12.6,11.0,12.9,14.7,12.8,11.1,13.2,15.2, 13.4,11.6,9.9,11.9,14.0,12.2,10.5,12.5,14.4,12.6, 11.0,9.3,11.4,13.4,15.6,13.7,12.0,14.0,15.9,13.8],
[9.9,8.1,5.4,6.9,11.1,16.8,13.1,14.0,12.6,15.8, 13.8,6.5,7.7,6.0,4.8,5.7,6.5,7.2,8.0,6.6, 6.2,6.0,6.2,6.6,7.2,8.4,7.1,5.7,7.4,8.7, 7.4,6.2,7.7,9.3,8.0,6.6,8.1,9.6,8.3,9.9, 11.6,9.9,8.3,7.1,5.4,7.2,8.9,7.5,6.2,4.8, 6.5,8.1,6.9,5.6,4.4,5.7,7.4,6.0,4.7,6.3]
];
const gustRefLevels = [27.9, 20.8];

const cloudControl = [0,93,71,33,13.5,73,99,98,69,71, 45.5,68,59,16,41,41,35.5,35.6,47,33.7, 55.8,12.8,7,12,13.8,91.4,84,62,65.4,65.4, 64.5,87.6,61.5,80.4,87.8,83.3,82.3,65.8,71.4,19.9, 48,67.3,85.9,78.8,80.4,32.4,28.6,47.2,4.5,44.2, 29.5,8.1,19.6,24,26,14.7,9,7,18.8,18];
const cloudQ75 = [null,93.6,78.5,35.6,15.6,72.8,98.5,95.3,76.3,73.7, 67.9,88.7,60.6,54.1,57.7,46.8,42.3,76.5,82.3,79.9, 60.6,60.6,63.1,80.8,95.3,97.8,93.6,96.8,90.6,92.7, 88.5,87.8,90.1,84.9,92.9,91.4,88.5,88.8,89.1,83.7, 86.3,81.4,78.6,89.1,89.1,87.4,79.7,70.1,66.3,81.7, 77.6,81.2,89.5,77.8,64.1,78.8,63.5,66.7,62.8,78.2];
const cloudQ25 = [null,81.7,67.6,26.9,9.9,61.5,96.2,89.1,56.7,56.7, 44.9,51.9,34.2,35.6,41,16.4,13.5,49.1,68.3,54.5, 32.7,18.3,16.9,34.6,70.9,90,82.3,61.3,66,57.9, 46.2,66.4,65.4,71.2,42.3,39.5,48.3,56.8,52.6,26.7, 38.1,57.7,52.2,42.7,53.6,38.8,50.3,32.3,28.8,18.8, 25.9,8.3,5.5,17.3,17.3,15.1,17.3,15,19.2,13.7];
const cloudMedian = [null,83.7,71.8,30.8,12.2,68.8,97.2,93,68.8,70.8, 52.3,69.5,51.3,42.6,48,40.4,25,62.2,76,68, 46.2,29.9,42.3,61.9,90,95.3,92.3,83.7,80.4,84.2, 75.6,71.8,79.1,81.2,81.2,83,76,81.8,71.4,55.1, 61.3,70.3,69,65.1,78.2,77.6,71.2,50.6,49.4,52.2, 48.7,42.9,70.3,54.2,52.8,42.3,26.9,35.3,35.6,49.6];

// ---------- DRAWING ----------
const FONT = "'Liberation Sans', Arial, Helvetica, sans-serif";
const svg = d3.select("#c").attr("font-family", FONT);
svg.append("rect").attr("width",635).attr("height",1800).attr("fill","#fff");
const W = 635, L = 28.7, STEP = 10.26, PH = 259.6, N = 60;
const x = d3.scaleLinear().domain([0, N-1]).range([L, L + STEP*(N-1)]);
const C_CONTROL = "#3a3ac8", C_AVG = "#780000", C_MEM = "#46a034";

function header(g, top, title){
  g.append("text").attr("x",416).attr("y",top-4).attr("text-anchor","middle")
    .attr("font-weight","bold").attr("font-size",13).attr("fill","#000").text(title);
  g.append("text").attr("x",633).attr("y",top-13.6).attr("text-anchor","end")
    .attr("font-size",9.3).attr("fill","#9a9a9a").text(sourceText);
  g.append("text").attr("x",633).attr("y",top-4.6).attr("text-anchor","end")
    .attr("font-size",9.3).attr("fill","#9a9a9a").text(madeText);
}

function yAxis(g, y, ticks){
  const ax = g.append("g").attr("transform",`translate(${L},0)`)
    .call(d3.axisLeft(y).tickValues(ticks).tickSize(5).tickPadding(3).tickSizeOuter(0));
  ax.select(".domain").remove();
  ax.selectAll("text").attr("font-size",10.7).attr("font-family",FONT).attr("fill","#000");
  ax.selectAll("line").attr("stroke","#000");
}

const panels = [
  {title:"Temperatuur 2m", min:-10, max:20, step:5, control:tempControl, average:tempAverage, members:tempMembers, zero:true},
  {title:"Dauwpunt 2m", min:-15, max:15, step:5, control:dewControl, average:dewAverage, members:dewMembers},
  {title:"Neerslag", min:0, max:10, step:2, control:precipControl, average:precipAverage, members:precipMembers},
  {title:"10m wind", min:0, max:22, step:2, control:windControl, average:windAverage, members:windMembers,
    refs: windRefLevels.map(v=>({v, color:"#2e5e58", dash:"2,2"}))},
  {title:"10m windstoten", min:0, max:30, step:2, control:gustControl, average:gustAverage, members:gustMembers,
    refs: [{v:gustRefLevels[0], color:"#ff44ee", dash:"5,4"},{v:gustRefLevels[1], color:"#2e5e58", dash:"2,2"}]}
];

panels.forEach((p, k) => {
  const top = 20.7 + 300*k, bottom = top + PH;
  const g = svg.append("g");
  const y = d3.scaleLinear().domain([p.min, p.max]).range([bottom, top]);
  const ticks = d3.range(p.min, p.max + 0.001, p.step);
  const clipId = "clip"+k;
  svg.append("clipPath").attr("id",clipId).append("rect")
    .attr("x",L).attr("y",top).attr("width",W-L).attr("height",PH);

  // grid
  g.append("g").selectAll("line").data(d3.range(N)).join("line")
    .attr("x1",d=>x(d)).attr("x2",d=>x(d)).attr("y1",top).attr("y2",bottom)
    .attr("stroke","#dedede").attr("stroke-width",1);
  g.append("g").selectAll("line").data(ticks).join("line")
    .attr("x1",L).attr("x2",W).attr("y1",d=>y(d)).attr("y2",d=>y(d))
    .attr("stroke","#dedede").attr("stroke-width",1);
  g.append("g").selectAll("line").data(d3.range(1, N, 4)).join("line")
    .attr("x1",d=>x(d)).attr("x2",d=>x(d)).attr("y1",top).attr("y2",bottom)
    .attr("stroke","#5a5a5a").attr("stroke-width",1.1);

  if (p.zero) {
    g.append("line").attr("x1",L).attr("x2",W).attr("y1",y(0)).attr("y2",y(0))
      .attr("stroke","#000").attr("stroke-width",2.6);
  }
  if (p.refs) {
    p.refs.forEach(r => g.append("line").attr("x1",L).attr("x2",W).attr("y1",y(r.v)).attr("y2",y(r.v))
      .attr("stroke",r.color).attr("stroke-width",2).attr("stroke-dasharray",r.dash));
  }

  const line = d3.line().x((d,i)=>x(i)).y(d=>y(d));
  const dg = g.append("g").attr("clip-path",`url(#${clipId})`);
  dg.selectAll("path.mem").data(p.members).join("path").attr("class","mem")
    .attr("d",line).attr("fill","none").attr("stroke",C_MEM).attr("stroke-opacity",0.5).attr("stroke-width",1);
  dg.append("path").datum(p.average).attr("d",line).attr("fill","none")
    .attr("stroke",C_AVG).attr("stroke-width",3).attr("stroke-dasharray","3,2");
  dg.append("path").datum(p.control).attr("d",line).attr("fill","none")
    .attr("stroke",C_CONTROL).attr("stroke-width",3.4).attr("stroke-linejoin","round");

  // frame
  g.append("line").attr("x1",L).attr("x2",W).attr("y1",top).attr("y2",top).attr("stroke","#000").attr("stroke-width",1.3);
  g.append("line").attr("x1",L).attr("x2",W).attr("y1",bottom).attr("y2",bottom).attr("stroke","#000").attr("stroke-width",1.3);
  g.append("line").attr("x1",L).attr("x2",L).attr("y1",top).attr("y2",bottom).attr("stroke","#000").attr("stroke-width",1.3);

  yAxis(g, y, ticks);
  const xa = g.append("g").attr("transform",`translate(0,${bottom})`)
    .call(d3.axisBottom(x).tickValues(d3.range(N)).tickSize(5).tickFormat("").tickSizeOuter(0));
  xa.select(".domain").remove();
  xa.selectAll("line").attr("stroke","#000");
  g.append("g").selectAll("text").data(days).join("text")
    .attr("x",(d,i)=>x(3+4*i)).attr("y",bottom+16).attr("text-anchor","middle")
    .attr("font-size",10.7).attr("fill","#000").text(d=>d);

  // legend
  const ly = top - 7.5;
  g.append("line").attr("x1",28).attr("x2",43.5).attr("y1",ly).attr("y2",ly).attr("stroke",C_CONTROL).attr("stroke-width",4);
  g.append("text").attr("x",47.7).attr("y",ly+3.8).attr("font-size",10.7).text("Control");
  g.append("line").attr("x1",106).attr("x2",121.7).attr("y1",ly).attr("y2",ly).attr("stroke","#a6d59a").attr("stroke-width",1);
  g.append("text").attr("x",125.3).attr("y",ly+3.8).attr("font-size",10.7).text("Members");
  g.append("line").attr("x1",193.3).attr("x2",208.3).attr("y1",ly).attr("y2",ly).attr("stroke",C_AVG).attr("stroke-width",3).attr("stroke-dasharray","3,2");
  g.append("text").attr("x",213.7).attr("y",ly+3.8).attr("font-size",10.7).text("Average");

  header(g, top, p.title);
});

// ---------- Cloud panel ----------
(function(){
  const top = 1520, bottom = 1780;
  const g = svg.append("g");
  const y = d3.scaleLinear().domain([0,100]).range([bottom, top]);
  const ticks = d3.range(0, 101, 10);
  svg.append("clipPath").attr("id","clipC").append("rect").attr("x",L).attr("y",top-2).attr("width",W-L).attr("height",bottom-top+4);
  const half = d3.range(0, N-1).map(i => i + 0.5);
  g.append("g").selectAll("line").data(half).join("line")
    .attr("x1",d=>x(d)).attr("x2",d=>x(d)).attr("y1",top).attr("y2",bottom)
    .attr("stroke","#dadada").attr("stroke-width",1.2);
  g.append("g").selectAll("line").data(ticks).join("line")
    .attr("x1",L).attr("x2",W).attr("y1",d=>y(d)).attr("y2",d=>y(d))
    .attr("stroke","#dadada").attr("stroke-width",1.2);

  const dg = g.append("g").attr("clip-path","url(#clipC)");
  const idx = d3.range(1, N);
  const bw = 8.2;
  dg.selectAll("rect.box").data(idx).join("rect").attr("class","box")
    .attr("x",i=>x(i)-bw/2).attr("width",bw)
    .attr("y",i=>y(cloudQ75[i])).attr("height",i=>y(cloudQ25[i])-y(cloudQ75[i]))
    .attr("fill","#ffffb0").attr("stroke","#c4c4c4").attr("stroke-width",1.4);
  dg.selectAll("line.med").data(idx).join("line").attr("class","med")
    .attr("x1",i=>x(i)-bw/2).attr("x2",i=>x(i)+bw/2)
    .attr("y1",i=>y(cloudMedian[i])).attr("y2",i=>y(cloudMedian[i]))
    .attr("stroke","#000").attr("stroke-width",1);
  dg.append("path").datum(cloudControl)
    .attr("d", d3.line().x((d,i)=>x(i)).y(d=>y(d)))
    .attr("fill","none").attr("stroke",C_CONTROL).attr("stroke-width",2.6).attr("stroke-linejoin","round");

  g.append("line").attr("x1",L).attr("x2",W).attr("y1",top).attr("y2",top).attr("stroke","#000").attr("stroke-width",1.3);
  g.append("line").attr("x1",L).attr("x2",W).attr("y1",bottom).attr("y2",bottom).attr("stroke","#000").attr("stroke-width",1.3);
  g.append("line").attr("x1",L).attr("x2",L).attr("y1",top).attr("y2",bottom).attr("stroke","#000").attr("stroke-width",1.3);
  yAxis(g, y, ticks);
  g.selectAll(".tick text").attr("fill","#1a1a40");
  const xa = g.append("g").attr("transform",`translate(0,${bottom})`)
    .call(d3.axisBottom(x).tickValues(half).tickSize(6).tickFormat("").tickSizeOuter(0));
  xa.select(".domain").remove();
  xa.selectAll("line").attr("stroke","#000");
  g.append("g").selectAll("text").data(days).join("text")
    .attr("x",(d,i)=>x(2.5+4*i)).attr("y",bottom+16).attr("text-anchor","middle")
    .attr("font-size",10.7).attr("fill","#000").text(d=>d);

  // legend
  const ly = 1510;
  g.append("rect").attr("x",29).attr("y",ly).attr("width",8).attr("height",7.5).attr("fill","#3a3ac8").attr("stroke","#22227a").attr("stroke-width",0.8);
  g.append("text").attr("x",40).attr("y",ly+8).attr("font-size",10.7).text("control");
  g.append("rect").attr("x",97).attr("y",ly).attr("width",8).attr("height",7.5).attr("fill","#ffffb0").attr("stroke","#555").attr("stroke-width",0.8);
  g.append("text").attr("x",108.3).attr("y",ly+8).attr("font-size",10.7).text("50%");
  g.append("rect").attr("x",156).attr("y",ly).attr("width",7.5).attr("height",7.5).attr("fill","#000");
  g.append("text").attr("x",166).attr("y",ly+8).attr("font-size",10.7).text("median");
  header(g, top, "Bedekkingsgraad");
})();
</script>
</body></html>
